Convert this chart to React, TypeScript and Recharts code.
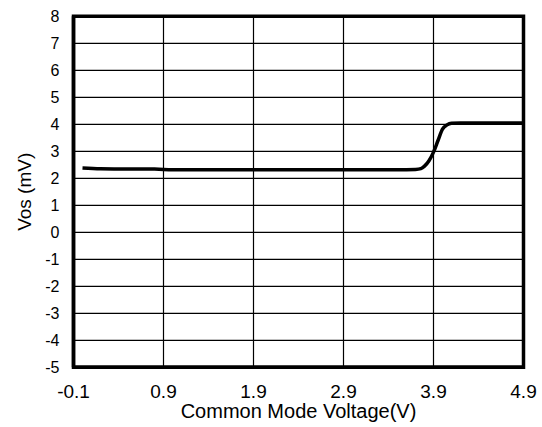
import React from 'react';
import {
  LineChart,
  Line,
  XAxis,
  YAxis,
  CartesianGrid,
  ReferenceArea
} from 'recharts';

const voltage = [0.0, 0.2, 0.5, 0.8, 1.0, 1.5, 2.0, 2.5, 3.0, 3.5, 3.7, 3.76, 3.8, 3.85, 3.9, 3.95, 4.0, 4.05, 4.1, 4.2, 4.5, 4.9];
const vos = [2.38, 2.35, 2.34, 2.34, 2.32, 2.32, 2.32, 2.32, 2.32, 2.32, 2.33, 2.36, 2.45, 2.65, 2.97, 3.4, 3.82, 3.98, 4.04, 4.05, 4.05, 4.05];

const xTicks = [-0.1, 0.9, 1.9, 2.9, 3.9, 4.9];
const yTicks = [-5, -4, -3, -2, -1, 0, 1, 2, 3, 4, 5, 6, 7, 8];

const data = voltage.map((v, i) => ({ v, vos: vos[i] }));

const FONT = '"Liberation Sans", Arial, sans-serif';

export default function App() {
  return (
    <div style={{ position: 'absolute', left: 0, top: 0, width: 542, height: 427, background: '#fff' }}>
      <LineChart
        width={542}
        height={427}
        data={data}
        margin={{ top: 16.3, right: 18.5, left: 0, bottom: 0 }}
      >
        <CartesianGrid stroke="#000" strokeWidth={1.2} />
        <XAxis
          dataKey="v"
          type="number"
          domain={[-0.1, 4.9]}
          ticks={xTicks}
          tickFormatter={(t: number) => t.toFixed(1)}
          height={59.7}
          tickLine={false}
          tickSize={0}
          tickMargin={17}
          axisLine={{ stroke: '#000', strokeWidth: 3.5 }}
          tick={{ fill: '#000', fontSize: 19, fontFamily: FONT }}
          label={{ value: 'Common Mode Voltage(V)', position: 'insideBottom', offset: 9, fill: '#000', fontSize: 20, fontFamily: FONT }}
        />
        <YAxis
          type="number"
          domain={[-5, 8]}
          ticks={yTicks}
          width={73.5}
          tickLine={false}
          tickSize={0}
          tickMargin={14}
          axisLine={{ stroke: '#000', strokeWidth: 3.5 }}
          tick={{ fill: '#000', fontSize: 16, fontFamily: FONT }}
          label={{ value: 'Vos (mV)', angle: -90, position: 'insideLeft', offset: 24, fill: '#000', fontSize: 19, fontFamily: FONT, style: { textAnchor: 'middle' } }}
        />
        <Line
          dataKey="vos"
          type="monotone"
          stroke="#000"
          strokeWidth={3.5}
          dot={false}
          isAnimationActive={false}
        />
        <ReferenceArea x1={-0.1} x2={4.9} y1={-5} y2={8} fill="none" stroke="#000" strokeWidth={3.5} />
      </LineChart>
    </div>
  );
}
